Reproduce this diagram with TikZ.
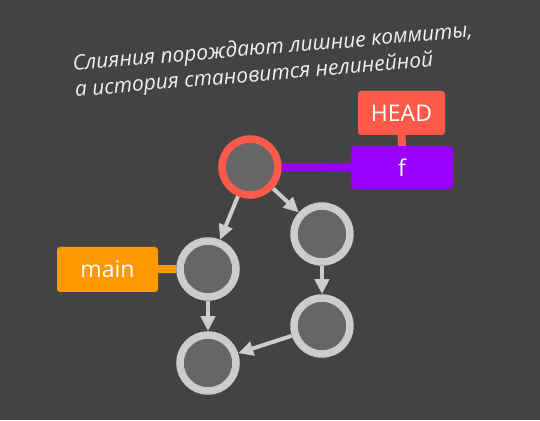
\documentclass[tikz,border=0pt]{standalone}
\usepackage{fontspec}
\setmainfont{Open Sans}
\usetikzlibrary{arrows.meta}
\definecolor{bg}{HTML}{434343}
\definecolor{commitfill}{HTML}{666666}
\definecolor{edge}{HTML}{CCCCCC}
\definecolor{headred}{HTML}{FF5A4A}
\definecolor{branchf}{HTML}{9900FF}
\definecolor{branchmain}{HTML}{FF9900}
\tikzset{
  commit/.style={circle, draw=edge, fill=commitfill, line width=7.5pt,
    minimum size=56pt, inner sep=0pt},
  tag/.style={rounded corners=3pt, text=white, inner sep=0pt,
    font=\fontsize{23}{26}\selectfont},
  parent/.style={-{Triangle[length=15pt,width=14pt]}, draw=edge, line width=4pt}
}
\begin{document}
\begin{tikzpicture}[x=1pt,y=1pt]
  \fill[bg] (0,0) rectangle (540,420);
  \useasboundingbox (0,0) rectangle (540,420);
  \node[anchor=base west, rotate=4.8, align=left, text=white!94!black,
    font=\itshape\fontsize{21}{26}\selectfont] (title) at (72,323)
    {Слияния порождают лишние коммиты,\\а история становится нелинейной};
  \draw
    (250,253) node[commit, draw=headred] (0){}
    (322,186) node[commit] (1){}
    (208,151) node[commit] (2){}
    (322,94) node[commit] (3){}
    (208,57) node[commit] (4){};
  \node[tag, fill=headred, minimum width=87pt, minimum height=44pt] (head) at (401.5,307) {HEAD};
  \node[tag, fill=branchf, minimum width=102pt, minimum height=43pt] (f) at (402,252.5) {f};
  \node[tag, fill=branchmain, minimum width=101pt, minimum height=45pt] (main) at (107.5,150.5) {main};
  \begin{scope}[line width=8pt]
    \draw[headred] (head) -- (f);
    \draw[branchf] (0) -- (f);
    \draw[branchmain] (main) -- (2);
  \end{scope}
  \begin{scope}[parent]
    \draw (0) to (2);
    \draw (0) to (1);
    \draw (1) to (3);
    \draw (2) to (4);
    \draw (3) to (4);
  \end{scope}
\end{tikzpicture}
\end{document}
